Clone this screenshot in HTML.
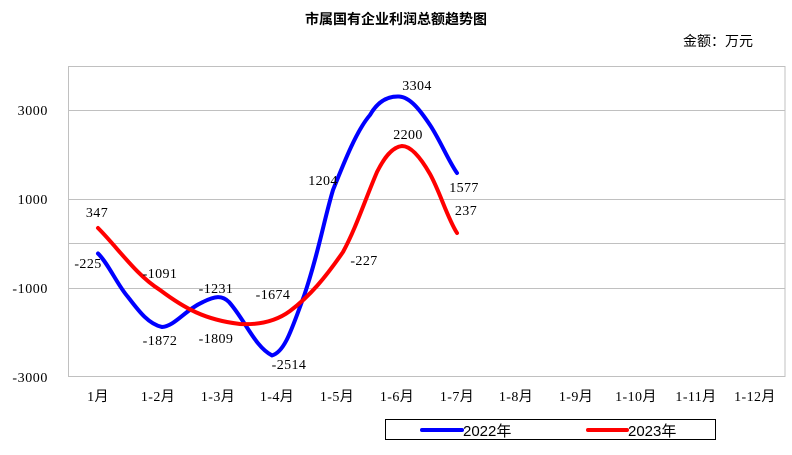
<!DOCTYPE html>
<html><head><meta charset="utf-8"><style>
body{margin:0;background:#fff;}
svg{display:block;font-family:"Liberation Serif","Noto Serif CJK SC",serif;}
</style></head><body>
<svg width="792" height="455" viewBox="0 0 792 455" xmlns="http://www.w3.org/2000/svg">
<rect width="792" height="455" fill="#fff"/>
<text x="396" y="24" text-anchor="middle" font-size="14" font-weight="bold" font-family="'Noto Sans CJK SC',sans-serif">市属国有企业利润总额趋势图</text>
<text x="718" y="46" text-anchor="middle" font-size="14" font-family="'Noto Sans CJK SC',sans-serif">金额：万元</text>
<g stroke="#c0c0c0" stroke-width="1">
<line x1="68.5" y1="110.5" x2="785" y2="110.5"/>
<line x1="68.5" y1="199.5" x2="785" y2="199.5"/>
<line x1="68.5" y1="243.5" x2="785" y2="243.5"/>
<line x1="68.5" y1="288.5" x2="785" y2="288.5"/>
<rect x="68.5" y="66.5" width="716.5" height="310" fill="none"/>
</g>
<g font-size="14" text-anchor="end" letter-spacing="0.6">
<text x="48" y="115">3000</text>
<text x="48" y="204">1000</text>
<text x="48" y="293">-1000</text>
<text x="48" y="382">-3000</text>
</g>
<g font-size="14" text-anchor="middle" letter-spacing="0.4" font-family="'Liberation Serif','Noto Sans CJK SC',serif">
<text x="98" y="401">1月</text><text x="158" y="401">1-2月</text><text x="218" y="401">1-3月</text><text x="277" y="401">1-4月</text><text x="337" y="401">1-5月</text><text x="397" y="401">1-6月</text><text x="457" y="401">1-7月</text><text x="516" y="401">1-8月</text><text x="576" y="401">1-9月</text><text x="636" y="401">1-10月</text><text x="696" y="401">1-11月</text><text x="755" y="401">1-12月</text>
</g>
<path d="M98,253.5 C108,263 118,286 128,297 C138,310 148,324 162,327 C175,326 185,310 203,302 C215,296 222,295 229,302 C245,320 255,347 272,355.4 C285,352 292,328 304,296 C318,255 324,220 333,190 C345,160 357,130 370,115 C378,101 388,96 399,96.5 C410,97 420,110 430,125 C440,140 448,160 457,173" fill="none" stroke="#0000ff" stroke-width="4" stroke-linecap="round"/>
<path d="M98,228 C118,248 136,275 160,290 C184,308 205,320 240,324 C258,325 275,322 290,311 C310,296 325,278 343,252 C356,228 365,200 377,172 C384,158 392,147 402,146 C412,146 422,160 430,174 C440,192 447,217 457,233" fill="none" stroke="#ff0000" stroke-width="4" stroke-linecap="round"/>
<g font-size="14" text-anchor="middle" letter-spacing="0.4">
<text x="88" y="268">-225</text>
<text x="97" y="217">347</text>
<text x="160" y="278">-1091</text>
<text x="160" y="345">-1872</text>
<text x="216" y="293">-1231</text>
<text x="216" y="343">-1809</text>
<text x="273" y="299">-1674</text>
<text x="289" y="369">-2514</text>
<text x="323" y="185">1204</text>
<text x="364" y="265">-227</text>
<text x="417" y="90">3304</text>
<text x="408" y="139">2200</text>
<text x="464" y="192">1577</text>
<text x="466" y="215">237</text>
</g>
<rect x="385.5" y="419.5" width="330" height="20" fill="#fff" stroke="#000" stroke-width="1"/>
<line x1="422" y1="430" x2="462" y2="430" stroke="#0000ff" stroke-width="4" stroke-linecap="round"/>
<text x="463" y="436" font-size="15" font-family="'Liberation Sans','Noto Sans CJK SC',sans-serif">2022年</text>
<line x1="588" y1="430" x2="627" y2="430" stroke="#ff0000" stroke-width="4" stroke-linecap="round"/>
<text x="628" y="436" font-size="15" font-family="'Liberation Sans','Noto Sans CJK SC',sans-serif">2023年</text>
</svg>
</body></html>
